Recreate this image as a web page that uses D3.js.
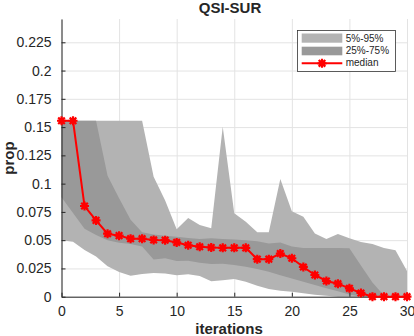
<!DOCTYPE html>
<html>
<head>
<meta charset="utf-8">
<script src="https://cdn.jsdelivr.net/npm/d3@7/dist/d3.min.js"></script>
<style>
  body { margin: 0; background: #fff; }
  text { font-family: "Liberation Sans", Arial, Helvetica, sans-serif; fill: #262626; }
</style>
</head>
<body>
<svg id="viz" width="414" height="336"></svg>
<script>
// iteration index
var iters = [0, 1, 2, 3, 4, 5, 6, 7, 8, 9, 10, 11, 12, 13, 14, 15, 16, 17, 18, 19, 20,
  21, 22, 23, 24, 25, 26, 27, 28, 29, 30];

// percentiles of prop
var p05 = [0.050, 0.0486, 0.0413, 0.0355, 0.027, 0.0218, 0.0186, 0.020, 0.021, 0.0205, 0.019,
  0.0198, 0.0183, 0.0136, 0.0145, 0.0157, 0.0133, 0.0097, 0.0068, 0.0053, 0.0044,
  0.003, 0.0018, 0.0008, 0, 0, 0, 0, 0, 0, 0];
var p25 = [0.088, 0.074, 0.060, 0.0545, 0.050, 0.0478, 0.0467, 0.0445, 0.033, 0.034, 0.0315,
  0.0318, 0.030, 0.029, 0.0292, 0.028, 0.0265, 0.0245, 0.0221, 0.019, 0.016,
  0.0133, 0.0103, 0.0074, 0.0048, 0.002, 0, 0, 0, 0, 0];
var p75 = [0.1556, 0.1556, 0.1556, 0.1556, 0.107, 0.087, 0.068, 0.057, 0.055, 0.054, 0.053,
  0.052, 0.051, 0.0516, 0.051, 0.0505, 0.050, 0.049, 0.047, 0.048, 0.0445,
  0.043, 0.043, 0.043, 0.043, 0.0428, 0.0275, 0.0125, 0.001, 0, 0];
var p95 = [0.1556, 0.1556, 0.1556, 0.1556, 0.1556, 0.1556, 0.1556, 0.1556, 0.106, 0.085, 0.0596,
  0.0695, 0.0634, 0.0605, 0.1503, 0.0737, 0.0663, 0.057, 0.057, 0.104, 0.0755,
  0.0708, 0.056, 0.051, 0.0554, 0.0516, 0.0484, 0.0466, 0.043, 0.041, 0.0228];
var median = [0.1556, 0.1556, 0.0802, 0.0675, 0.0557, 0.054, 0.0513, 0.0513, 0.0502, 0.050, 0.048,
  0.0455, 0.0442, 0.0435, 0.0432, 0.0432, 0.0432, 0.0332, 0.0332, 0.0382, 0.034,
  0.0263, 0.0192, 0.0139, 0.0115, 0.0074, 0.0033, 0, 0, 0, 0];

var xTicks = [0, 5, 10, 15, 20, 25, 30];
var yTicks = [0, 0.025, 0.05, 0.075, 0.1, 0.125, 0.15, 0.175, 0.2, 0.225];
var legendLabels = ["5%-95%", "25%-75%", "median"];

var svg = d3.select("#viz");

var x = d3.scaleLinear().domain([0, 30]).range([61.5, 407]);
var y = d3.scaleLinear().domain([0, 0.2456]).range([296.7, 19]);

// grid
svg.append("g")
  .attr("transform", "translate(0,296.7)")
  .call(d3.axisBottom(x).tickValues(xTicks).tickSize(-(296.7 - 19)).tickFormat(""))
  .call(function(g) {
    g.select(".domain").remove();
    g.selectAll("line").attr("stroke", "#e3e3e3");
  });
svg.append("g")
  .attr("transform", "translate(61.5,0)")
  .call(d3.axisLeft(y).tickValues(yTicks).tickSize(-(407 - 61.5)).tickFormat(""))
  .call(function(g) {
    g.select(".domain").remove();
    g.selectAll("line").attr("stroke", "#e3e3e3");
  });

// bands
var outer = d3.area()
  .x(function(d, i) { return x(iters[i]); })
  .y0(function(d, i) { return y(p05[i]); })
  .y1(function(d, i) { return y(p95[i]); });
var inner = d3.area()
  .x(function(d, i) { return x(iters[i]); })
  .y0(function(d, i) { return y(p25[i]); })
  .y1(function(d, i) { return y(p75[i]); });

svg.append("path").datum(iters).attr("d", outer).attr("fill", "#b3b3b3");
svg.append("path").datum(iters).attr("d", inner).attr("fill", "#999999");

// axes
svg.append("g")
  .attr("transform", "translate(0,296.7)")
  .call(d3.axisBottom(x).tickValues(xTicks).tickSizeInner(-4).tickSizeOuter(0).tickPadding(9))
  .call(function(g) {
    g.select(".domain").attr("stroke", "#262626");
    g.selectAll("line").attr("stroke", "#262626");
    g.selectAll("text").attr("font-size", 14).attr("fill", "#262626")
      .attr("font-family", "Liberation Sans, Arial, sans-serif");
  });
svg.append("g")
  .attr("transform", "translate(61.5,0)")
  .call(d3.axisLeft(y).tickValues(yTicks).tickSizeInner(-4).tickSizeOuter(0).tickPadding(10)
    .tickFormat(function(d) { return String(d); }))
  .call(function(g) {
    g.select(".domain").attr("stroke", "#262626");
    g.selectAll("line").attr("stroke", "#262626");
    g.selectAll("text").attr("font-size", 14).attr("fill", "#262626")
      .attr("font-family", "Liberation Sans, Arial, sans-serif");
  });

// median line + markers
var star = "M-4.5,0H4.5M0,-4.5V4.5M-3.3,-3.3L3.3,3.3M-3.3,3.3L3.3,-3.3";
var line = d3.line()
  .x(function(d, i) { return x(iters[i]); })
  .y(function(d) { return y(d); });

svg.append("path").datum(median).attr("d", line)
  .attr("fill", "none").attr("stroke", "#ff0000").attr("stroke-width", 2);

var marks = svg.append("g").selectAll("g")
  .data(median)
  .enter()
  .append("g")
  .attr("transform", function(d, i) {
    return "translate(" + x(iters[i]) + "," + y(d) + ")";
  });
marks.append("path").attr("d", star).attr("stroke", "#ff0000").attr("stroke-width", 2.2);
marks.append("circle").attr("r", 3).attr("fill", "#ff0000");

// title and labels
svg.append("text").attr("x", 230).attr("y", 13).attr("text-anchor", "middle")
  .attr("font-size", 15).attr("font-weight", "bold").text("QSI-SUR");
svg.append("text").attr("x", 229).attr("y", 333.5).attr("text-anchor", "middle")
  .attr("font-size", 15).attr("font-weight", "bold").text("iterations");
svg.append("text").attr("transform", "translate(14,158) rotate(-90)").attr("text-anchor", "middle")
  .attr("font-size", 15).attr("font-weight", "bold").text("prop");

// legend
var lg = svg.append("g");
lg.append("rect").attr("x", 297.5).attr("y", 30.5).attr("width", 98).attr("height", 41)
  .attr("fill", "#fff").attr("stroke", "#333").attr("stroke-width", 0.8);
lg.append("rect").attr("x", 301.7).attr("y", 33.5).attr("width", 40.6).attr("height", 9.2)
  .attr("fill", "#b3b3b3");
lg.append("rect").attr("x", 301.7).attr("y", 46.7).attr("width", 40.6).attr("height", 8.6)
  .attr("fill", "#999999");
lg.append("line").attr("x1", 301.7).attr("x2", 342.3).attr("y1", 63.3).attr("y2", 63.3)
  .attr("stroke", "#ff0000").attr("stroke-width", 2);
lg.append("path").attr("transform", "translate(322,63.3)").attr("d", star)
  .attr("stroke", "#ff0000").attr("stroke-width", 2.2);
lg.append("circle").attr("cx", 322).attr("cy", 63.3).attr("r", 3).attr("fill", "#ff0000");
lg.selectAll("text.lbl")
  .data(legendLabels)
  .enter()
  .append("text")
  .attr("class", "lbl")
  .attr("x", 345.7)
  .attr("y", function(d, i) { return 41.5 + i * 12.3; })
  .attr("font-size", 10)
  .text(function(d) { return d; });
</script>
</body>
</html>
